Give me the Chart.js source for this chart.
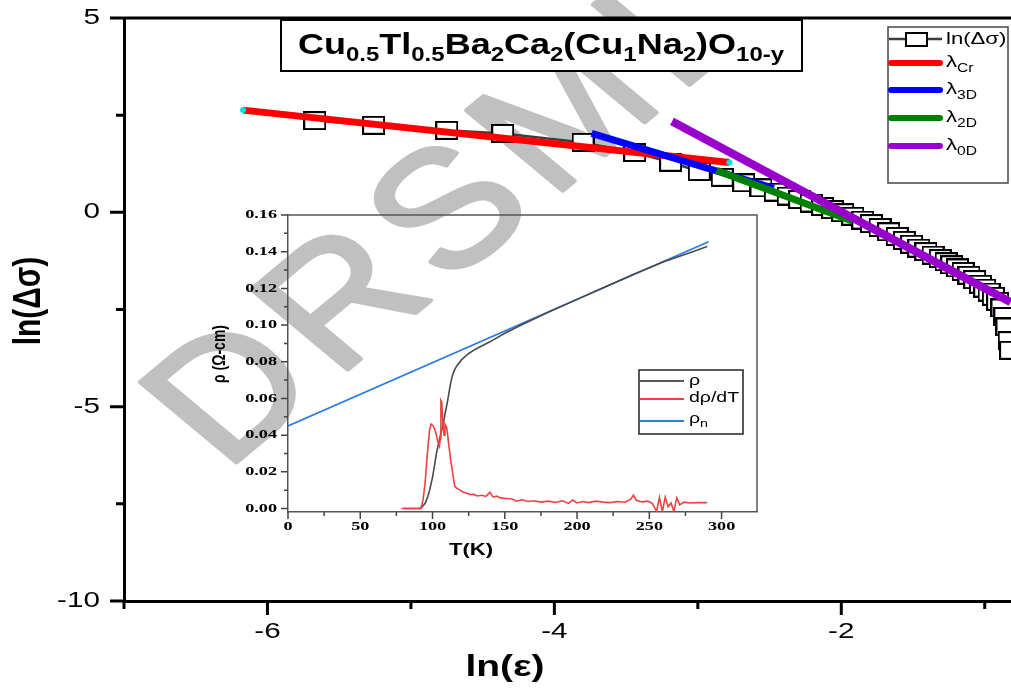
<!DOCTYPE html>
<html>
<head>
<meta charset="utf-8">
<script src="https://cdn.jsdelivr.net/npm/chart.js@4.4.1/dist/chart.umd.min.js"></script>
<style>
  html, body { margin: 0; padding: 0; background: #fff; }
  #wrap { position: relative; width: 1011px; height: 688px; overflow: hidden; }
  #mainChart { position: absolute; left: 0; top: 0; }
  #insetChart { position: absolute; left: 180px; top: 195px; }
</style>
</head>
<body>
<div id="wrap">
  <canvas id="mainChart" width="1011" height="688"></canvas>
  <canvas id="insetChart" width="600" height="380"></canvas>
</div>
<script>
/* ── Main panel: ln(Δσ) vs ln(ε) ─────────────────────────────────── */
const lnEps = [
  -5.67, -5.26, -4.75, -4.36, -3.80, -3.44, -3.19, -2.99, -2.83, -2.68,
  -2.56, -2.46, -2.37, -2.29, -2.21, -2.13, -2.06, -1.99, -1.92, -1.85,
  -1.79, -1.73, -1.67, -1.61, -1.56, -1.51, -1.46, -1.41, -1.36, -1.31,
  -1.27, -1.23, -1.19, -1.15, -1.11, -1.07, -1.03, -1.00, -0.97, -0.94,
  -0.91, -0.88, -0.86, -0.845, -0.83, -0.82
];
const lnDsig = [
  2.36, 2.24, 2.11, 2.03, 1.80, 1.54, 1.29, 1.05, 0.90, 0.76,
  0.63, 0.52, 0.42, 0.33, 0.24, 0.15, 0.07, -0.01, -0.10, -0.20,
  -0.29, -0.39, -0.50, -0.62, -0.72, -0.82, -0.92, -1.01, -1.10, -1.19,
  -1.27, -1.35, -1.43, -1.52, -1.62, -1.73, -1.85, -1.95, -2.05, -2.16,
  -2.29, -2.46, -2.68, -2.95, -3.30, -3.55
];

// straight-line fits (end points)
const fitCrX = [-6.17, -2.78], fitCrY = [2.63, 1.28];
const fit3DX = [-3.74, -2.47], fit3DY = [2.03, 0.62];
const fit2DX = [-2.87, -1.92], fit2DY = [1.08, -0.23];
const fit0DX = [-3.18, -0.82], fit0DY = [2.34, -2.31];

const mainXTicks  = [-7, -6, -5, -4, -3, -2, -1];
const mainXLabels = [-6, -4, -2];
const mainYTicks  = [5, 2.5, 0, -2.5, -5, -7.5, -10];
const mainYLabels = [5, 0, -5, -10];

/* ── Inset: ρ(T), dρ/dT, ρn ──────────────────────────────────────── */
const tRho = [80, 91, 93, 95, 96.5, 98, 100, 101.5, 102.7, 104,
  105.5, 107.3, 109, 110.5, 112, 113, 114, 115.5, 117, 120,
  125, 130, 140, 150, 160, 180, 200, 220, 240, 260, 280, 290];
const rho = [0, 0, 0.001, 0.003, 0.006, 0.010, 0.017, 0.024, 0.030, 0.035,
  0.040, 0.046, 0.053, 0.059, 0.066, 0.070, 0.073, 0.076, 0.078, 0.081,
  0.0845, 0.087, 0.091, 0.0955, 0.0995, 0.107, 0.114, 0.121, 0.128, 0.1345, 0.140, 0.1428];

const tDrho = [
  78.5, 92, 93.5, 95, 96, 97, 98, 99, 99.5, 100.5,
  101.6, 102.7, 103.8, 104.8, 105.3, 105.8, 106.4, 106.9, 107.4, 108,
  108.6, 109.2, 109.8, 110.5, 111.2, 112, 113, 114.2, 115.4, 117,
  119, 121, 123.5, 126, 128, 131, 134, 137, 139.7, 142,
  144.3, 147, 151, 155, 158, 162, 166, 170, 175, 180,
  185, 190, 194, 197, 200, 204, 208, 213, 218, 223,
  228, 233, 237, 239, 241, 245, 249, 252, 255, 257,
  259, 261, 263, 265, 267, 269, 271, 274, 278, 284,
  290
];
const drho = [
  0, 0, 0.005, 0.015, 0.026, 0.035, 0.043, 0.046, 0.046, 0.045,
  0.043, 0.040, 0.036, 0.034, 0.038, 0.059, 0.058, 0.050, 0.044, 0.040,
  0.046, 0.045, 0.044, 0.040, 0.035, 0.030, 0.024, 0.018, 0.012, 0.011,
  0.010, 0.009, 0.0085, 0.0075, 0.0078, 0.0068, 0.0072, 0.0066, 0.0088, 0.0062,
  0.0068, 0.0058, 0.0055, 0.0052, 0.0040, 0.0048, 0.0038, 0.0042, 0.0035, 0.0040,
  0.0033, 0.0042, 0.0028, 0.0046, 0.0030, 0.0038, 0.0032, 0.0040, 0.0035, 0.0032,
  0.0038, 0.0034, 0.0050, 0.0072, 0.0045, 0.0036, 0.0040, 0.0028, -0.0015, 0.0060,
  -0.0018, 0.0062, 0.0010, 0.0030, -0.0016, 0.0058, 0.0020, 0.0035, 0.0030, 0.0032,
  0.0032
];

const tRhoN = [0, 291];
const rhoN  = [0.045, 0.1454];

const insetXTicks  = [0, 25, 50, 75, 100, 125, 150, 175, 200, 225, 250, 275, 300];
const insetXLabels = [0, 50, 100, 150, 200, 250, 300];
const insetYTicks  = [0, 0.01, 0.02, 0.03, 0.04, 0.05, 0.06, 0.07, 0.08,
                      0.09, 0.10, 0.11, 0.12, 0.13, 0.14, 0.15, 0.16];
const insetYLabels = [0, 0.02, 0.04, 0.06, 0.08, 0.10, 0.12, 0.14, 0.16];

/* ── Helpers ─────────────────────────────────────────────────────── */
const SANS  = '"Liberation Sans", Arial, sans-serif';
const SERIF = '"Liberation Serif", "Times New Roman", serif';

function pairs(xs, ys) {
  return xs.map((x, i) => ({ x: x, y: ys[i] }));
}

// the original figure is stretched sideways, so text is drawn with a x-scale
function drawText(ctx, x, y, parts, opt) {
  opt = opt || {};
  ctx.save();
  ctx.translate(x, y);
  ctx.scale(opt.sx || 1, 1);
  if (opt.rot) ctx.rotate(opt.rot);
  ctx.textBaseline = opt.baseline || 'middle';
  ctx.textAlign = 'left';
  ctx.fillStyle = opt.color || '#000';
  let w = 0;
  const ws = parts.map(p => {
    ctx.font = p[1];
    const m = ctx.measureText(p[0]).width;
    w += m;
    return m;
  });
  let cx = opt.align === 'center' ? -w / 2 : (opt.align === 'right' ? -w : 0);
  parts.forEach((p, i) => {
    ctx.font = p[1];
    ctx.fillText(p[0], cx, p[2] || 0);
    cx += ws[i];
  });
  ctx.restore();
}

function has(list, v) {
  return list.some(l => Math.abs(l - v) < 1e-9);
}

/** Outward tick marks (long/short), tick labels and frame lines. */
function makeAxisDeco(c) {
  return {
    id: 'axisDeco',
    afterDraw(chart) {
      const { ctx, chartArea: a } = chart;
      const xs = chart.scales.x, ys = chart.scales.y;
      ctx.save();
      ctx.strokeStyle = c.color;
      ctx.lineWidth = c.lineWidth;
      ctx.beginPath();
      c.xTicks.forEach(v => {
        const px = xs.getPixelForValue(v);
        const len = has(c.xLabels, v) ? c.majorLen : c.minorLen;
        ctx.moveTo(px, a.bottom);
        ctx.lineTo(px, a.bottom + len);
      });
      c.yTicks.forEach(v => {
        const py = ys.getPixelForValue(v);
        const len = has(c.yLabels, v) ? c.majorLen : c.minorLen;
        ctx.moveTo(a.left, py);
        ctx.lineTo(a.left - len, py);
      });
      ctx.stroke();

      ctx.strokeStyle = c.frameColor;
      ctx.lineWidth = c.frameWidth;
      ctx.beginPath();
      ctx.moveTo(a.left, a.top);
      ctx.lineTo(a.right, a.top);
      if (c.frameRight) ctx.lineTo(a.right, a.bottom);
      ctx.stroke();
      ctx.restore();

      c.xLabels.forEach(v => {
        drawText(ctx, xs.getPixelForValue(v), a.bottom + c.xGap,
          [[c.fmtX(v), c.font]], { align: 'center', sx: c.sx });
      });
      c.yLabels.forEach(v => {
        drawText(ctx, a.left - c.yGap, ys.getPixelForValue(v),
          [[c.fmtY(v), c.font]], { align: 'right', sx: c.sx });
      });
    }
  };
}

function squareMarker(w, h) {
  const cv = document.createElement('canvas');
  cv.width = w;
  cv.height = h;
  const g = cv.getContext('2d');
  g.fillStyle = '#fff';
  g.fillRect(1, 1, w - 2, h - 2);
  g.strokeStyle = '#000';
  g.lineWidth = 2;
  g.strokeRect(1, 1, w - 2, h - 2);
  return cv;
}

const marker = squareMarker(23, 19);

/* ── Main panel decorations ──────────────────────────────────────── */
const watermark = {
  id: 'watermark',
  beforeDraw(chart) {
    const ctx = chart.ctx;
    ctx.save();
    ctx.translate(225, 472);
    ctx.scale(1.2, 1);
    ctx.rotate(-45 * Math.PI / 180);
    ctx.font = '165px ' + SANS;
    ctx.fillStyle = '#c0c0c0';
    ctx.strokeStyle = '#c0c0c0';
    ctx.lineWidth = 4;
    ctx.lineJoin = 'round';
    ctx.textBaseline = 'alphabetic';
    let cx = 0;
    for (const ch of 'DRSMLC') {
      ctx.fillText(ch, cx, 0);
      ctx.strokeText(ch, cx, 0);
      cx += ctx.measureText(ch).width + 12;
    }
    ctx.restore();
  }
};

const mainDecor = {
  id: 'mainDecor',
  afterDraw(chart) {
    const ctx = chart.ctx;

    // title box
    ctx.save();
    ctx.fillStyle = '#fff';
    ctx.fillRect(281, 20, 521, 51);
    ctx.strokeStyle = '#000';
    ctx.lineWidth = 2;
    ctx.strokeRect(281, 20, 521, 51);
    ctx.restore();
    const B = 'bold 30px ' + SANS, S = 'bold 20px ' + SANS;
    drawText(ctx, 541, 54, [
      ['Cu', B], ['0.5', S, 7], ['Tl', B], ['0.5', S, 7], ['Ba', B], ['2', S, 7],
      ['Ca', B], ['2', S, 7], ['(Cu', B], ['1', S, 7], ['Na', B], ['2', S, 7],
      [')O', B], ['10-y', S, 7]
    ], { align: 'center', sx: 1.2, baseline: 'alphabetic' });

    // legend
    ctx.save();
    ctx.fillStyle = '#fff';
    ctx.fillRect(888, 27, 120, 156);
    ctx.strokeStyle = '#444';
    ctx.lineWidth = 1.5;
    ctx.strokeRect(888, 27, 120, 156);
    ctx.strokeStyle = '#3c3c3c';
    ctx.lineWidth = 2.5;
    ctx.beginPath();
    ctx.moveTo(889, 39);
    ctx.lineTo(942, 39);
    ctx.stroke();
    ctx.drawImage(squareMarker(23, 15), 905, 32);
    const rows = [
      ['#ff0000', 63, 'Cr'], ['#0000ff', 90, '3D'],
      ['#008000', 118, '2D'], ['#9900cc', 146, '0D']
    ];
    ctx.lineWidth = 6;
    ctx.lineCap = 'round';
    rows.forEach(r => {
      ctx.strokeStyle = r[0];
      ctx.beginPath();
      ctx.moveTo(891, r[1]);
      ctx.lineTo(940, r[1]);
      ctx.stroke();
    });
    ctx.restore();
    const LF = '17px ' + SANS, LS = '12px ' + SANS;
    drawText(ctx, 946, 39, [['ln(Δσ)', LF]], { sx: 1.3 });
    rows.forEach(r => {
      drawText(ctx, 946, r[1] - 1, [['λ', LF], [r[2], LS, 7]], { sx: 1.3 });
    });

    // axis titles
    const AT = 'bold 30px ' + SANS;
    drawText(ctx, 505, 668, [['ln(ε)', AT]], { align: 'center', sx: 1.3 });
    drawText(ctx, 29, 301, [['ln(Δσ)', AT]], { align: 'center', sx: 1.3, rot: -Math.PI / 2 });
  }
};

new Chart(document.getElementById('mainChart'), {
  type: 'scatter',
  data: {
    datasets: [
      {
        label: 'ln(Δσ)', data: pairs(lnEps, lnDsig), showLine: true,
        borderColor: '#3c3c3c', borderWidth: 2.5,
        pointStyle: marker, pointRadius: 11, order: 5
      },
      {
        label: 'λCr', data: pairs(fitCrX, fitCrY), showLine: true,
        borderColor: '#ff0000', borderWidth: 7,
        pointRadius: 3, pointBackgroundColor: '#00e0e0', pointBorderWidth: 0, order: 4
      },
      {
        label: 'λ3D', data: pairs(fit3DX, fit3DY), showLine: true,
        borderColor: '#0000ff', borderWidth: 7, pointRadius: 0, order: 3
      },
      {
        label: 'λ2D', data: pairs(fit2DX, fit2DY), showLine: true,
        borderColor: '#008000', borderWidth: 7, pointRadius: 0, order: 2
      },
      {
        label: 'λ0D', data: pairs(fit0DX, fit0DY), showLine: true,
        borderColor: '#9900cc', borderWidth: 8, pointRadius: 0, order: 1
      }
    ]
  },
  options: {
    responsive: false,
    animation: false,
    events: [],
    layout: { padding: { top: 18, right: 0, left: 0, bottom: 0 }, autoPadding: false },
    plugins: { legend: { display: false }, tooltip: { enabled: false } },
    scales: {
      x: {
        type: 'linear', min: -7, max: -0.817,
        grid: { display: false },
        border: { display: true, color: '#000', width: 3 },
        ticks: { display: false },
        afterFit: s => { s.height = 87; }
      },
      y: {
        type: 'linear', min: -10, max: 5,
        grid: { display: false },
        border: { display: true, color: '#000', width: 3 },
        ticks: { display: false },
        afterFit: s => { s.width = 124; }
      }
    }
  },
  plugins: [
    watermark,
    makeAxisDeco({
      xTicks: mainXTicks, xLabels: mainXLabels, yTicks: mainYTicks, yLabels: mainYLabels,
      majorLen: 14, minorLen: 8, lineWidth: 3, color: '#000',
      frameColor: '#000', frameWidth: 3, frameRight: false,
      font: '22px ' + SANS, sx: 1.35, xGap: 31, yGap: 24,
      fmtX: v => String(v), fmtY: v => String(v)
    }),
    mainDecor
  ]
});

/* ── Inset ───────────────────────────────────────────────────────── */
const insetDecor = {
  id: 'insetDecor',
  afterDraw(chart) {
    const ctx = chart.ctx;
    ctx.save();
    ctx.fillStyle = '#fff';
    ctx.fillRect(459, 175, 104, 64);
    ctx.strokeStyle = '#222';
    ctx.lineWidth = 1.5;
    ctx.strokeRect(459, 175, 104, 64);
    const rows = [['#555555', 186], ['#f04040', 204], ['#2a7de1', 226]];
    ctx.lineWidth = 2;
    rows.forEach(r => {
      ctx.strokeStyle = r[0];
      ctx.beginPath();
      ctx.moveTo(460, r[1]);
      ctx.lineTo(504, r[1]);
      ctx.stroke();
    });
    ctx.restore();
    const F = '15px ' + SANS, FS = '11px ' + SANS;
    drawText(ctx, 509, 186, [['ρ', F]], { sx: 1.3 });
    drawText(ctx, 509, 203, [['dρ/dT', F]], { sx: 1.3 });
    drawText(ctx, 509, 224, [['ρ', F], ['n', FS, 5]], { sx: 1.3 });

    drawText(ctx, 291, 355, [['T(K)', 'bold 17px ' + SANS]], { align: 'center', sx: 1.3 });
    drawText(ctx, 40, 159, [['ρ (Ω-cm)', 'bold 14px ' + SANS]],
      { align: 'center', sx: 1.3, rot: -Math.PI / 2 });
  }
};

new Chart(document.getElementById('insetChart'), {
  type: 'scatter',
  data: {
    datasets: [
      {
        label: 'ρn', data: pairs(tRhoN, rhoN), showLine: true,
        borderColor: '#2a7de1', borderWidth: 1.8, pointRadius: 0, order: 3
      },
      {
        label: 'ρ', data: pairs(tRho, rho), showLine: true,
        borderColor: '#4a4a4a', borderWidth: 1.6, pointRadius: 0, order: 2
      },
      {
        label: 'dρ/dT', data: pairs(tDrho, drho), showLine: true,
        borderColor: '#f04040', borderWidth: 1.6, pointRadius: 0, order: 1
      }
    ]
  },
  options: {
    responsive: false,
    animation: false,
    events: [],
    layout: { padding: { top: 20, right: 23, left: 0, bottom: 0 }, autoPadding: false },
    plugins: { legend: { display: false }, tooltip: { enabled: false } },
    scales: {
      x: {
        type: 'linear', min: 0, max: 324.5,
        grid: { display: false },
        border: { display: true, color: '#555', width: 1.5 },
        ticks: { display: false },
        afterFit: s => { s.height = 63; }
      },
      y: {
        type: 'linear', min: -0.0019, max: 0.16,
        grid: { display: false },
        border: { display: true, color: '#555', width: 1.5 },
        ticks: { display: false },
        afterFit: s => { s.width = 108; }
      }
    }
  },
  plugins: [
    makeAxisDeco({
      xTicks: insetXTicks, xLabels: insetXLabels, yTicks: insetYTicks, yLabels: insetYLabels,
      majorLen: 7, minorLen: 4, lineWidth: 1.5, color: '#444',
      frameColor: '#555', frameWidth: 1.5, frameRight: true,
      font: 'bold 13px ' + SERIF, sx: 1.4, xGap: 15, yGap: 11,
      fmtX: v => String(v), fmtY: v => v.toFixed(2)
    }),
    insetDecor
  ]
});
</script>
</body>
</html>
